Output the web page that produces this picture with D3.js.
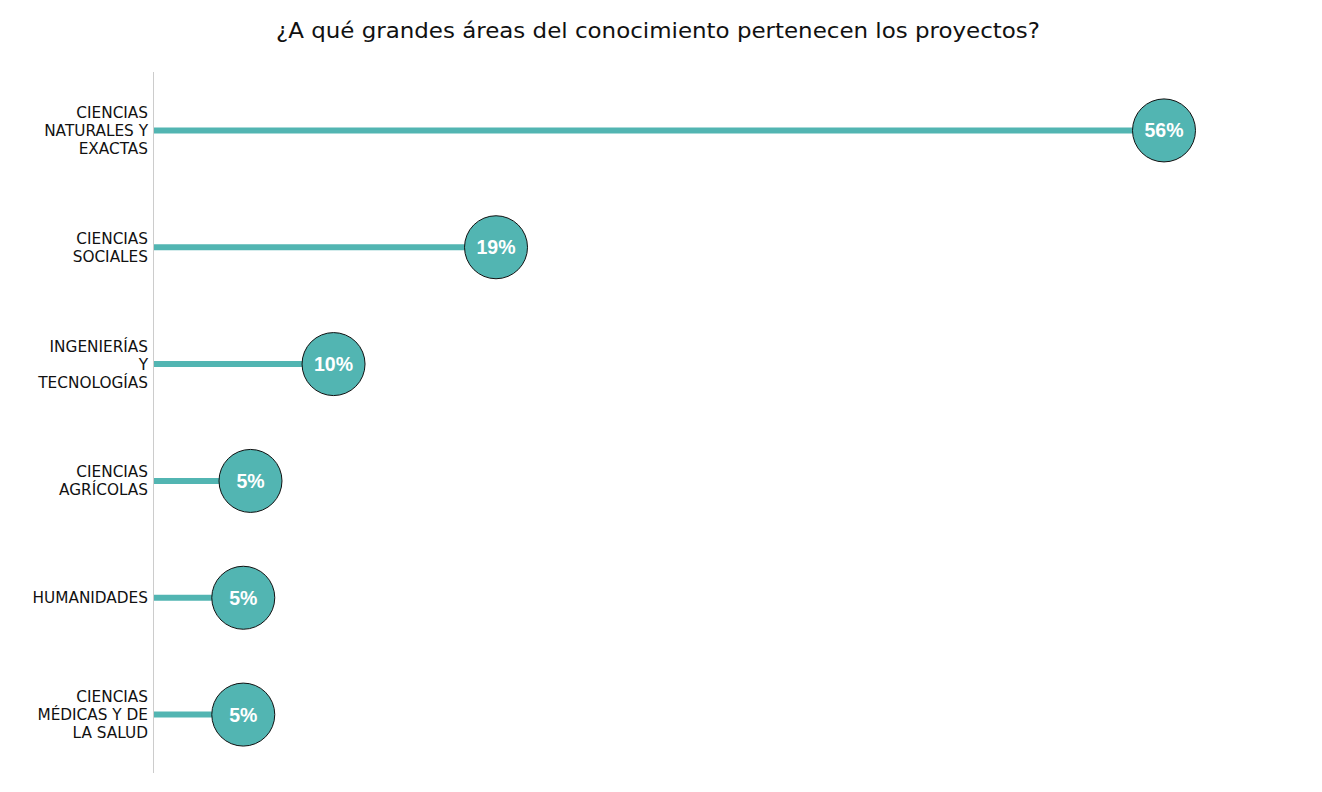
<!DOCTYPE html>
<html>
<head>
<meta charset="utf-8">
<script src="https://cdn.jsdelivr.net/npm/d3@7"></script>
<style>
  html, body { margin: 0; padding: 0; background: #ffffff; }
  svg { display: block; }
</style>
</head>
<body>
<svg id="chart" width="1322" height="792"></svg>
<script>
const title = "¿A qué grandes áreas del conocimiento pertenecen los proyectos?";
const categories = [
  ["CIENCIAS", "NATURALES Y", "EXACTAS"],
  ["CIENCIAS", "SOCIALES"],
  ["INGENIERÍAS", "Y", "TECNOLOGÍAS"],
  ["CIENCIAS", "AGRÍCOLAS"],
  ["HUMANIDADES"],
  ["CIENCIAS", "MÉDICAS Y DE", "LA SALUD"]
];
const values = [56, 19, 10, 5.4, 5, 5];
const valueLabels = ["56%", "19%", "10%", "5%", "5%", "5%"];

const svg = d3.select("#chart");
const color = "#52b5b2";

const margin = { left: 153, top: 72, bottom: 773 };

const y = d3.scaleBand()
  .domain(d3.range(categories.length))
  .range([margin.top, margin.bottom])
  .padding(0);

const x = d3.scaleLinear()
  .domain([0, 56])
  .range([margin.left, 1164]);

// title
svg.append("text")
  .attr("x", 658)
  .attr("y", 38)
  .attr("text-anchor", "middle")
  .attr("font-family", "DejaVu Sans, Verdana, sans-serif")
  .attr("font-size", 22)
  .attr("textLength", 764)
  .attr("lengthAdjust", "spacingAndGlyphs")
  .attr("fill", "#111")
  .text(title);

// axis line
svg.append("line")
  .attr("x1", x(0) + 0.5).attr("x2", x(0) + 0.5)
  .attr("y1", margin.top).attr("y2", margin.bottom)
  .attr("stroke", "#cccccc").attr("stroke-width", 1);

const rows = svg.append("g").selectAll("g")
  .data(values.map((v, i) => ({ v, i, cat: categories[i], lab: valueLabels[i] })))
  .join("g");

const cy = d => y(d.i) + y.bandwidth() / 2;

rows.append("line")
  .attr("x1", x(0) + 1)
  .attr("x2", d => x(d.v))
  .attr("y1", cy).attr("y2", cy)
  .attr("stroke", color)
  .attr("stroke-width", 6);

rows.append("circle")
  .attr("cx", d => x(d.v))
  .attr("cy", cy)
  .attr("r", 31.5)
  .attr("fill", color)
  .attr("stroke", "#111")
  .attr("stroke-width", 1);

rows.append("text")
  .attr("x", d => x(d.v))
  .attr("y", d => cy(d) + 7)
  .attr("text-anchor", "middle")
  .attr("font-family", "Liberation Sans, Arial, sans-serif")
  .attr("font-weight", "bold")
  .attr("font-size", 19.5)
  .attr("fill", "#ffffff")
  .text(d => d.lab);

// category labels
rows.each(function(d) {
  const g = d3.select(this);
  const n = d.cat.length;
  const lh = 18;
  const t = g.append("text")
    .attr("text-anchor", "end")
    .attr("font-family", "DejaVu Sans, Verdana, sans-serif")
    .attr("font-size", 15.3)
    .attr("fill", "#111");
  d.cat.forEach((line, k) => {
    t.append("tspan")
      .attr("x", 148)
      .attr("y", cy(d) + (k - (n - 1) / 2) * lh + 5.5)
      .text(line);
  });
});
</script>
</body>
</html>
